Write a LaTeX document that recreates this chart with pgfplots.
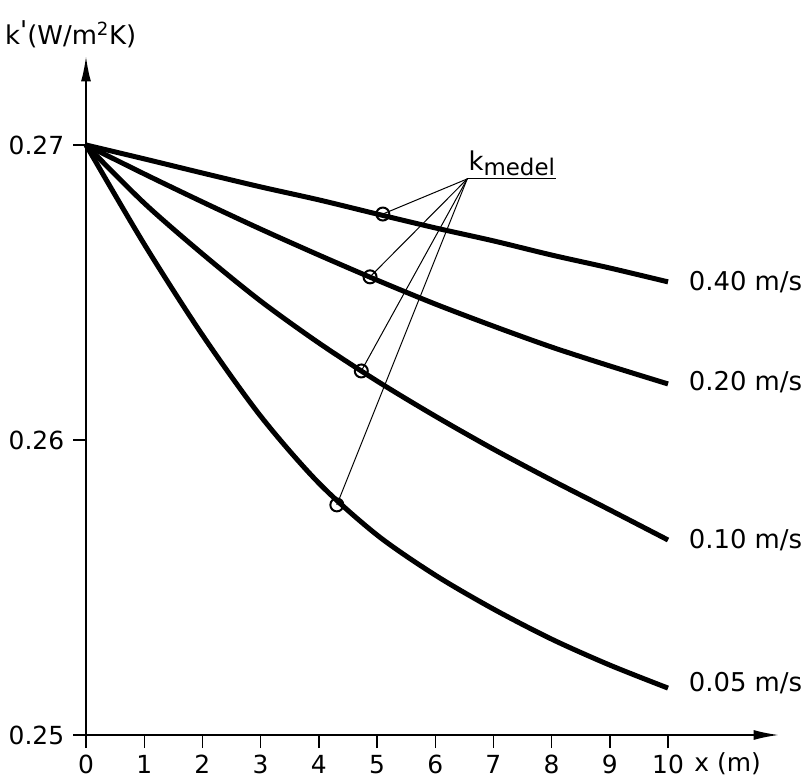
\documentclass[border=0pt]{standalone}
\usepackage{fontspec}
\setmainfont{DejaVu Sans}
\usepackage{pgfplots}
\pgfplotsset{compat=1.18}
\usetikzlibrary{arrows.meta}

\pgfplotstableread{
x     v040    v020    v010    v005
0     0.27000 0.27000 0.27000 0.27000
1     0.26953 0.26902 0.26803 0.26664
2     0.26905 0.26807 0.26631 0.26356
3     0.26858 0.26715 0.26471 0.26081
4     0.26814 0.26627 0.26329 0.25854
5     0.26766 0.26542 0.26200 0.25678
6     0.26719 0.26461 0.26081 0.25542
7     0.26675 0.26386 0.25969 0.25427
8     0.26627 0.26315 0.25864 0.25325
9     0.26583 0.26251 0.25763 0.25237
10    0.26536 0.26190 0.25661 0.25159
}\curves

\begin{document}
\fontsize{26}{30}\selectfont
\begin{tikzpicture}
\path[use as bounding box] (-86bp,-45bp) rectangle (726bp,735bp);
\begin{axis}[
  at={(0,0)}, anchor=south west,
  scale only axis, width=692.6bp, height=678.5bp,
  xmin=0, xmax=11.9, ymin=0.25, ymax=0.2730,
  axis lines=left,
  axis line style={line width=1.5bp, -{Latex[length=25bp,width=10bp]}},
  xtick={0,1,...,10}, ytick={0.25,0.26,0.27},
  tick align=outside, major tick length=13bp,
  tick style={line width=1.4bp, black},
  every tick label/.append style={font=\fontsize{25}{29}\selectfont},
  xticklabel style={/pgf/number format/assume math mode=true, inner sep=2bp, yshift=-5bp},
  yticklabel style={/pgf/number format/.cd, fixed, fixed zerofill, precision=2, assume math mode=true},
  clip=false,
  every axis plot/.append style={black},
]
\addplot[line width=5bp, smooth] table[x=x, y=v040] {\curves};
\addplot[line width=5bp, smooth] table[x=x, y=v020] {\curves};
\addplot[line width=5bp, smooth] table[x=x, y=v010] {\curves};
\addplot[line width=5bp, smooth] table[x=x, y=v005] {\curves};
% leader lines to k_medel
\addplot[line width=1bp] coordinates {(6.55,0.26885) (5.10,0.26766)};
\addplot[line width=1bp] coordinates {(6.55,0.26885) (4.88,0.26553)};
\addplot[line width=1bp] coordinates {(6.55,0.26885) (4.73,0.26234)};
\addplot[line width=1bp] coordinates {(6.55,0.26885) (4.31,0.25780)};
\addplot[line width=1bp] coordinates {(6.55,0.26885) (8.08,0.26885)};
% k_medel points
\addplot[only marks, mark=o, mark size=6.5bp, mark options={line width=2bp, fill=white}]
  coordinates {(5.10,0.26766) (4.88,0.26553) (4.73,0.26234) (4.31,0.25780)};
\node[anchor=base west, inner sep=0pt] at ([yshift=8bp]axis cs:6.57,0.26885) {k\raisebox{-5bp}{\fontsize{23}{25}\selectfont medel}};
% curve labels
\node[anchor=west] at ([xshift=12bp,yshift=0bp]axis cs:10,0.26536) {0.40 m/s};
\node[anchor=west] at ([xshift=12bp,yshift=2bp]axis cs:10,0.26190) {0.20 m/s};
\node[anchor=west] at ([xshift=12bp,yshift=0bp]axis cs:10,0.25661) {0.10 m/s};
\node[anchor=west] at ([xshift=12bp,yshift=5bp]axis cs:10,0.25159) {0.05 m/s};
\node[anchor=base west, inner sep=0pt] at ([yshift=-36bp]axis cs:10.45,0.25) {\fontsize{25}{29}\selectfont x (m)};
\end{axis}
\node[anchor=base west, inner sep=0pt] at (-81bp,690bp) {k\raisebox{5bp}{\textquotesingle}(W/m\textsuperscript{2}K)};
\end{tikzpicture}
\end{document}
